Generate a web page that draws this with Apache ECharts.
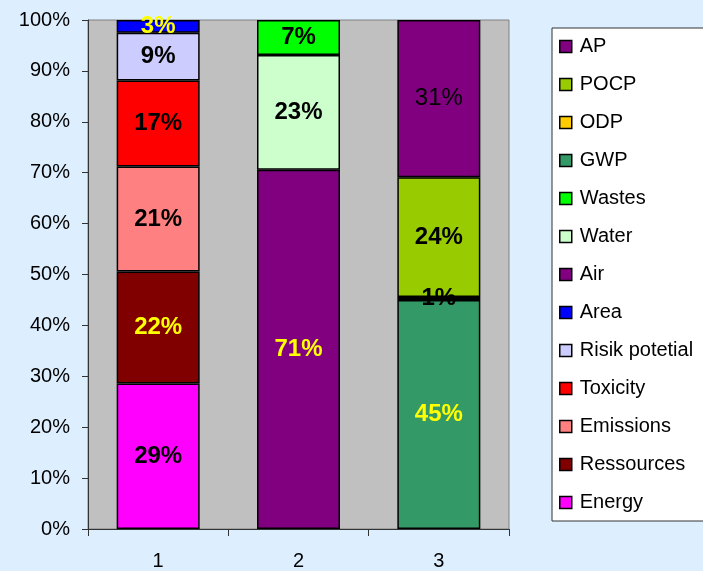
<!DOCTYPE html>
<html>
<head>
<meta charset="utf-8">
<script src="https://cdn.jsdelivr.net/npm/echarts@6/dist/echarts.min.js"></script>
<style>
html,body{margin:0;padding:0;background:#DDEEFF;}
#chart{width:703px;height:571px;}
</style>
</head>
<body>
<div id="chart"></div>
<script>
// ---- data ----
const categories = ['1', '2', '3'];
const bar1Names = ['Energy', 'Ressources', 'Emissions', 'Toxicity', 'Risik potetial', 'Area'];
const bar1Values = [28.6, 22.0, 20.6, 16.9, 9.4, 2.5];
const bar2Names = ['Air', 'Water', 'Wastes'];
const bar2Values = [70.6, 22.5, 6.9];
const bar3Names = ['GWP', 'ODP', 'POCP', 'AP'];
const bar3Values = [45.0, 0.6, 23.5, 30.9];
const legendOrder = ['AP', 'POCP', 'ODP', 'GWP', 'Wastes', 'Water', 'Air', 'Area', 'Risik potetial', 'Toxicity', 'Emissions', 'Ressources', 'Energy'];
const yTickValues = [0, 10, 20, 30, 40, 50, 60, 70, 80, 90, 100];

// ---- styles ----
const fillColors = {
  'Energy': '#FF00FF', 'Ressources': '#800000', 'Emissions': '#FF8080', 'Toxicity': '#FF0000',
  'Risik potetial': '#CCCCFF', 'Area': '#0000FF', 'Air': '#800080', 'Water': '#CCFFCC',
  'Wastes': '#00FF00', 'GWP': '#339966', 'ODP': '#FFCC00', 'POCP': '#99CC00', 'AP': '#800080'
};
const labelColors = {
  'Area': '#FFFF00', 'Ressources': '#FFFF00', 'Air': '#FFFF00', 'GWP': '#FFFF00'
};
const labelWeights = { 'AP': 'normal' };

const FONT = "'Liberation Sans', Arial, sans-serif";

const series = [];
function addSeries(names, values, catIndex) {
  names.forEach(function (name, i) {
    const data = categories.map(function (c, j) { return j === catIndex ? values[i] : '-'; });
    series.push({
      name: name,
      type: 'bar',
      stack: 'total',
      barWidth: 83,
      data: data,
      itemStyle: { color: fillColors[name], borderColor: '#000', borderWidth: 1.5 },
      label: {
        show: true,
        position: 'inside',
        fontFamily: FONT,
        fontSize: 24,
        fontWeight: labelWeights[name] || 'bold',
        color: labelColors[name] || '#000',
        formatter: function (p) { return Math.round(p.value) + '%'; }
      },
      emphasis: { disabled: true }
    });
  });
}
addSeries(bar1Names, bar1Values, 0);
addSeries(bar2Names, bar2Values, 1);
addSeries(bar3Names, bar3Values, 2);

const chart = echarts.init(document.getElementById('chart'), null, { renderer: 'canvas' });
chart.setOption({
  backgroundColor: '#DDEEFF',
  animation: false,
  grid: {
    left: 88, right: 194, top: 20, bottom: 40,
    show: true, backgroundColor: '#C0C0C0', borderColor: '#808080', borderWidth: 1
  },
  legend: {
    data: legendOrder,
    orient: 'vertical',
    left: 552, top: 28,
    itemWidth: 12, itemHeight: 12,
    itemGap: 17,
    icon: 'rect',
    backgroundColor: '#FFFFFF',
    borderColor: '#333',
    borderWidth: 1,
    borderRadius: 0,
    padding: [8, 60, 8, 7],
    itemStyle: { borderColor: '#000', borderWidth: 1.5 },
    textStyle: { fontFamily: FONT, fontSize: 20, lineHeight: 21, color: '#000', padding: [0, 0, 0, 3] },
    selectedMode: false
  },
  xAxis: {
    type: 'category',
    data: categories,
    axisLine: { lineStyle: { color: '#333', width: 1 } },
    axisTick: { show: true, length: 7, lineStyle: { color: '#333' } },
    axisLabel: { fontFamily: FONT, fontSize: 20, color: '#000', margin: 22 },
    splitLine: { show: false }
  },
  yAxis: {
    type: 'value',
    min: yTickValues[0], max: yTickValues[yTickValues.length - 1], interval: 10,
    axisLine: { show: true, lineStyle: { color: '#333', width: 1 } },
    axisTick: { show: true, length: 6, lineStyle: { color: '#333' } },
    axisLabel: { fontFamily: FONT, fontSize: 20, color: '#000', margin: 18, formatter: '{value}%' },
    splitLine: { show: false }
  },
  series: series
});
</script>
</body>
</html>
